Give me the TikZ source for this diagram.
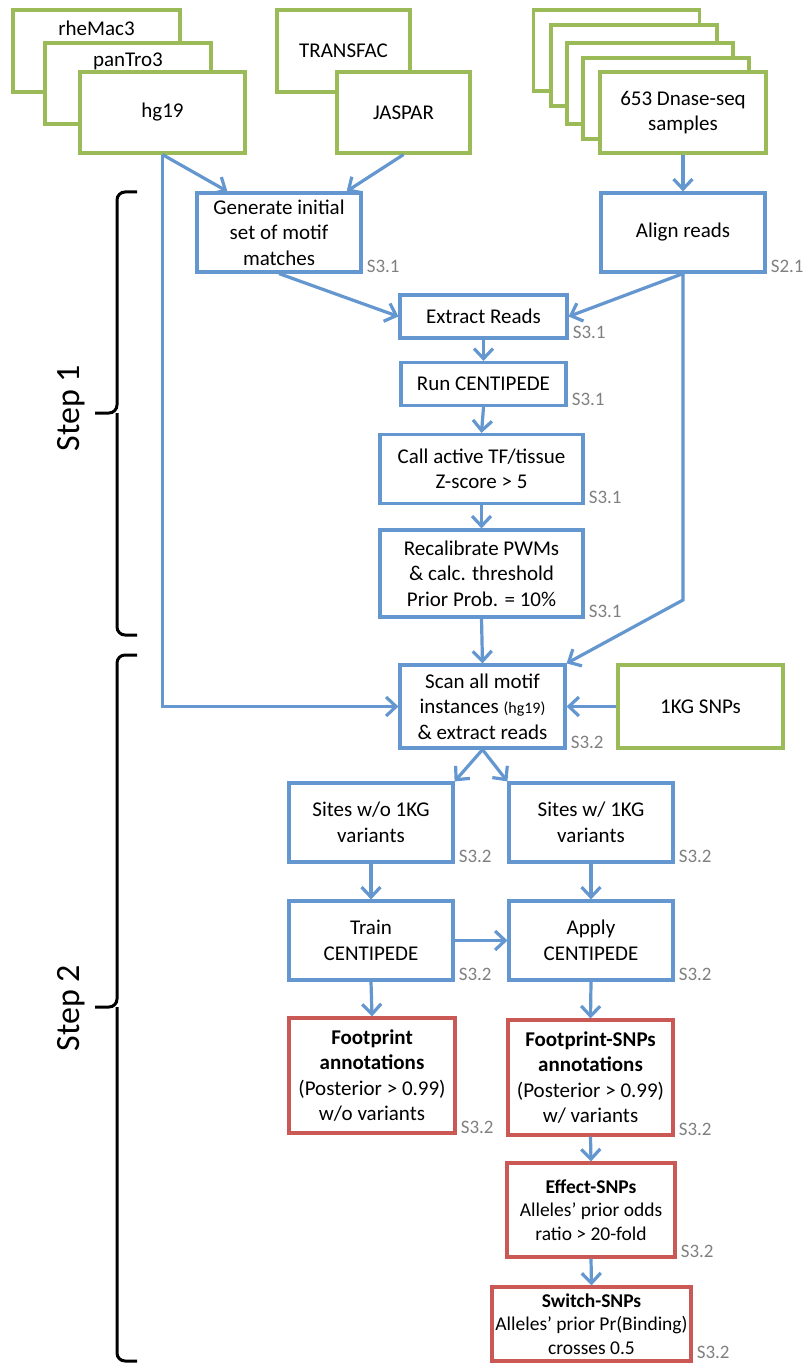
\documentclass[tikz,border=0pt]{standalone}
\usepackage{fontspec}
\setmainfont{Carlito}
\usetikzlibrary{positioning,arrows.meta}
\definecolor{srcgreen}{RGB}{155,187,89}
\definecolor{procblue}{RGB}{100,150,208}
\definecolor{resred}{RGB}{202,88,84}
\definecolor{refgray}{RGB}{128,128,128}

\begin{document}
\begin{tikzpicture}[x=1pt, y=-1pt, font=\fontsize{21}{25.5}\selectfont,
	box/.style={line width=3.2pt, fill=white, align=center, inner sep=0pt, minimum width=165pt, minimum height=80pt},
	src/.style={box, draw=srcgreen},
	proc/.style={box, draw=procblue},
	res/.style={box, draw=resred},
	sref/.style={font=\fontsize{19}{19}\selectfont, text=refgray, inner sep=0pt, anchor=south west, xshift=4pt, yshift=1pt},
	flow/.style={draw=procblue, line width=3.2pt, -{Straight Barb[length=10pt, width=19pt]}},
	stepbrace/.style={draw=black, line width=3pt, rounded corners=8pt},
	steplabel/.style={rotate=90, font=\fontsize{34}{34}\selectfont}]
		\useasboundingbox (0,0) rectangle (804,1364);

		% genomes
		\node[src, minimum width=167pt, minimum height=82pt] (rhemac) at (96.5,51) {};
		\node (rhemac-txt) at (96.5,28) {rheMac3};
		\node[src, minimum width=166pt, minimum height=81pt] (pantro) at (128,83.5) {};
		\node (pantro-txt) at (128,61) {panTro3};
		\node[src, minimum width=165pt, minimum height=81pt] (hg) at (162.5,112.5) {hg19};

		% motif databases
		\node[src, minimum width=133pt, minimum height=82pt] (transfac) at (343.5,51) {TRANSFAC};
		\node[src, minimum width=133pt, minimum height=81pt] (jaspar) at (403.5,112.5) {JASPAR};

		% dnase samples
		\node[src, minimum width=166pt, minimum height=81pt] (dnase-a) at (616.5,50.5) {};
		\node[src, minimum width=166pt, minimum height=81pt] (dnase-b) at (634,65.5) {};
		\node[src, minimum width=166pt, minimum height=81pt] (dnase-c) at (650,83.5) {};
		\node[src, minimum width=166pt, minimum height=81pt] (dnase-d) at (666,98.5) {};
		\node[src, minimum width=166pt, minimum height=81pt] (dnase) at (683,112.5) {653 Dnase-seq\\samples};

		% step 1
		\node[proc, minimum width=164pt, minimum height=79pt] (gen) at (279,232.5) {Generate initial\\set of motif\\matches};
		\node[sref] (gen-ref) at (gen.south east) {S3.1};
		\node[proc, minimum width=164pt, minimum height=79pt] (align) at (683,232.5) {Align reads};
		\node[sref] (align-ref) at (align.south east) {S2.1};
		\node[proc, minimum width=167pt, minimum height=43pt] (extract) at (483.5,316.5) {Extract Reads};
		\node[sref] (extract-ref) at (extract.south east) {S3.1};
		\node[proc, minimum width=165pt, minimum height=43pt] (run) at (483.5,384) {Run CENTIPEDE};
		\node[sref] (run-ref) at (run.south east) {S3.1};
		\node[proc, minimum width=203pt, minimum height=69pt] (call) at (481.5,469) {Call active TF/tissue\\Z-score > 5};
		\node[sref] (call-ref) at (call.south east) {S3.1};
		\node[proc, minimum width=203pt, minimum height=87pt] (recal) at (481.5,573.5) {Recalibrate PWMs\\\& calc. threshold\\Prior Prob. = 10\%};
		\node[sref] (recal-ref) at (recal.south east) {S3.1};

		% step 2
		\node[proc, minimum height=83pt] (scan) at (482.5,706.5) {Scan all motif\\instances {\fontsize{16}{16}\selectfont(hg19)}\\\& extract reads};
		\node[sref] (scan-ref) at (scan.south east) {S3.2};
		\node[src, minimum height=83pt] (kgsnp) at (700.5,706.5) {1KG SNPs};
		\node[proc, minimum width=164pt, minimum height=79pt] (siteno) at (371,822.5) {Sites w/o 1KG\\variants};
		\node[sref] (siteno-ref) at (siteno.south east) {S3.2};
		\node[proc, minimum width=164pt, minimum height=79pt] (siteyes) at (591,822.5) {Sites w/ 1KG\\variants};
		\node[sref] (siteyes-ref) at (siteyes.south east) {S3.2};
		\node[proc, minimum width=164pt, minimum height=79pt] (train) at (371,940.5) {Train\\CENTIPEDE};
		\node[sref] (train-ref) at (train.south east) {S3.2};
		\node[proc, minimum width=164pt, minimum height=79pt] (apply) at (591,940.5) {Apply\\CENTIPEDE};
		\node[sref] (apply-ref) at (apply.south east) {S3.2};

		% results
		\node[res, minimum width=166pt, minimum height=115pt] (fpann) at (372,1075.5) {\textbf{Footprint}\\\textbf{annotations}\\(Posterior > 0.99)\\w/o variants};
		\node[sref] (fpann-ref) at (fpann.south east) {S3.2};
		\node[res, minimum width=165pt, minimum height=115pt] (fpsnp) at (590.5,1077.5) {\textbf{Footprint-SNPs}\\\textbf{annotations}\\(Posterior > 0.99)\\w/ variants};
		\node[sref] (fpsnp-ref) at (fpsnp.south east) {S3.2};
		\node[res, minimum width=168pt, minimum height=94pt, font=\fontsize{19.5}{23.5}\selectfont] (effect) at (591,1210) {\textbf{Effect-SNPs}\\Alleles’ prior odds\\ratio > 20-fold};
		\node[sref] (effect-ref) at (effect.south east) {S3.2};
		\node[res, minimum width=199pt, minimum height=74pt, font=\fontsize{19.5}{23.5}\selectfont] (switch) at (591.5,1324) {\textbf{Switch-SNPs}\\Alleles’ prior Pr(Binding)\\crosses 0.5};
		\node[sref, yshift=3pt] (switch-ref) at (switch.south east) {S3.2};

		% connectors
		\draw[flow] (hg.south) -- ([xshift=32pt]gen.north west);
		\draw[flow] (jaspar.south) -- ([xshift=-16pt]gen.north east);
		\draw[flow] (dnase.south) -- (align.north);
		\draw[flow] (gen.south) -- (extract.west);
		\draw[flow] (align.south) -- (extract.east);
		\draw[flow] (extract.south) -- (run.north);
		\draw[flow] (run.south) -- (call.north);
		\draw[flow] (call.south) -- (recal.north);
		\draw[flow] (recal.south) -- (scan.north);
		\coordinate (alignbend) at (683,600);
		\draw[flow] (align.south) -- (alignbend) -- (scan.north east);
		\draw[flow] (hg.south) |- (scan.west);
		\draw[flow] (kgsnp.west) -- (scan.east);
		\draw[flow] (scan.south) -- (siteno.north east);
		\draw[flow] (scan.south) -- (siteyes.north west);
		\draw[flow] (siteno.south) -- (train.north);
		\draw[flow] (siteyes.south) -- (apply.north);
		\draw[flow] (train.east) -- (apply.west);
		\draw[flow] (train.south) -- (fpann.north);
		\draw[flow] (apply.south) -- (fpsnp.north);
		\draw[flow] (fpsnp.south) -- (effect.north);
		\draw[flow] (effect.south) -- (switch.north);

		% steps
		\draw[stepbrace] (137,192) -- (117,192) -- (117,413) -- (95,413);
		\draw[stepbrace] (137,635) -- (117,635) -- (117,413);
		\node[steplabel] (step1) at (71,408) {Step 1};
		\draw[stepbrace] (137,655) -- (117,655) -- (117,1007) -- (95,1007);
		\draw[stepbrace] (137,1361) -- (117,1361) -- (117,1007);
		\node[steplabel] (step2) at (71,1008) {Step 2};
	\end{tikzpicture}
\end{document}
